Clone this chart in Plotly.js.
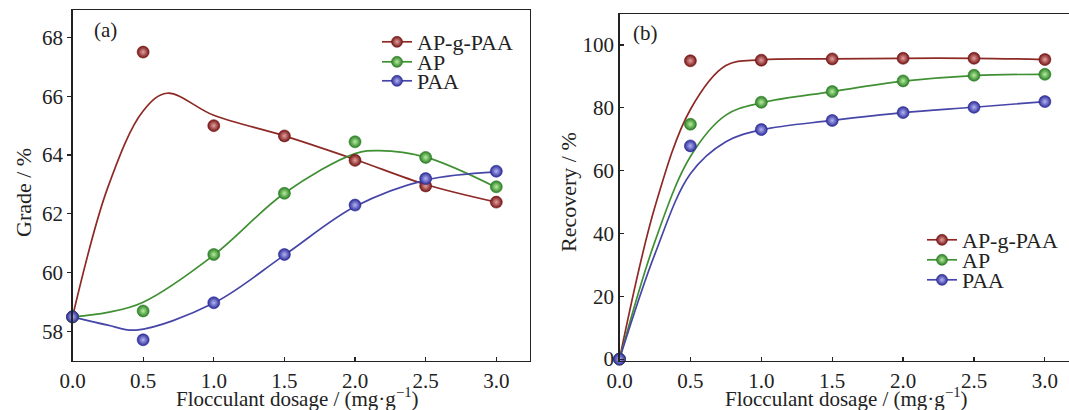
<!DOCTYPE html>
<html>
<head>
<meta charset="utf-8">
<script src="https://cdn.plot.ly/plotly-3.0.1.min.js"></script>
<style>html,body{margin:0;padding:0;background:#fff;}#chart{width:1069px;height:410px;}</style>
</head>
<body>
<div id="chart"></div>
<script>
// ---------- data ----------
const dosage = [0.0, 0.5, 1.0, 1.5, 2.0, 2.5, 3.0];
const seriesNames = ['AP-g-PAA', 'AP', 'PAA'];

// (a) Grade / %
const gradeAPgPAA = [58.5, 67.5, 65.0, 64.65, 63.82, 62.95, 62.4];
const gradeAP     = [58.5, 58.7, 60.62, 62.7, 64.45, 63.92, 62.92];
const gradePAA    = [58.5, 57.72, 58.98, 60.62, 62.3, 63.2, 63.45];

// fitted curves for (a)
const gradeFitX_APgPAA = [0, 0.25, 0.5, 0.67, 1.0, 1.5, 2.0, 2.5, 3.0];
const gradeFitY_APgPAA = [58.5, 62.9, 65.5, 66.1, 65.35, 64.65, 63.85, 63.0, 62.4];
const gradeFitX_AP = [0, 0.25, 0.5, 1.0, 1.5, 2.0, 2.17, 2.5, 3.0];
const gradeFitY_AP = [58.5, 58.65, 59.0, 60.6, 62.7, 64.05, 64.15, 63.93, 62.9];
const gradeFitX_PAA = [0, 0.25, 0.45, 1.0, 1.5, 2.0, 2.5, 3.0];
const gradeFitY_PAA = [58.5, 58.22, 58.05, 58.97, 60.6, 62.25, 63.15, 63.43];

// (b) Recovery / %
const recAPgPAA = [0, 95.0, 95.2, 95.6, 95.8, 95.8, 95.4];
const recAP     = [0, 74.8, 81.8, 85.2, 88.6, 90.4, 90.7];
const recPAA    = [0, 67.9, 73.1, 76.0, 78.5, 80.2, 82.0];

// fitted curves for (b)
const recFitX = [0, 0.25, 0.5, 0.75, 1.0, 1.5, 2.0, 2.5, 3.0];
const recFitY_APgPAA = [0, 48.5, 79.5, 93.5, 95.3, 95.6, 95.8, 95.8, 95.4];
const recFitY_AP     = [0, 37.5, 64.5, 77.7, 81.6, 85.2, 88.5, 90.3, 90.7];
const recFitY_PAA    = [0, 33.5, 59.0, 69.2, 73.0, 76.0, 78.5, 80.2, 82.0];

const xTickVals = [0, 0.5, 1.0, 1.5, 2.0, 2.5, 3.0];
const xTickText = ['0.0', '0.5', '1.0', '1.5', '2.0', '2.5', '3.0'];
const gradeTicks = [58, 60, 62, 64, 66, 68];
const recTicks = [0, 20, 40, 60, 80, 100];

// ---------- styles ----------
const lineColors = ['#8e2a26', '#3f8f33', '#4646a8'];
const markColors = ['#741414', '#2a7d24', '#2c2c98'];
const hiColors   = ['#e6a0a0', '#b6ee9e', '#b4b4f4'];
const FONT = 'Liberation Serif, Times New Roman, serif';
const INK = '#222';

function pts(x, y, i, xa, ya) {
  return {x: x, y: y, xaxis: xa, yaxis: ya, type: 'scatter', mode: 'markers', showlegend: false,
    marker: {size: 12, color: markColors[i], gradient: {type: 'radial', color: hiColors[i]},
             line: {width: 0.6, color: markColors[i]}}, cliponaxis: false};
}
function fit(x, y, i, xa, ya) {
  return {x: x, y: y, xaxis: xa, yaxis: ya, type: 'scatter', mode: 'lines', showlegend: false,
    line: {color: lineColors[i], width: 1.7, shape: 'spline', smoothing: 1.0}, cliponaxis: false};
}
function leg(i, lg, xa, ya) {
  return {x: [null], y: [null], type: 'scatter', mode: 'lines+markers', name: seriesNames[i],
    legend: lg, xaxis: xa, yaxis: ya,
    line: {color: lineColors[i], width: 1.7},
    marker: {size: 11, color: markColors[i], gradient: {type: 'radial', color: hiColors[i]},
             line: {width: 0.6, color: markColors[i]}}};
}

const traces = [
  fit(gradeFitX_APgPAA, gradeFitY_APgPAA, 0, 'x', 'y'),
  fit(gradeFitX_AP, gradeFitY_AP, 1, 'x', 'y'),
  fit(gradeFitX_PAA, gradeFitY_PAA, 2, 'x', 'y'),
  pts(dosage, gradeAPgPAA, 0, 'x', 'y'),
  pts(dosage, gradeAP, 1, 'x', 'y'),
  pts(dosage, gradePAA, 2, 'x', 'y'),
  fit(recFitX, recFitY_APgPAA, 0, 'x2', 'y2'),
  fit(recFitX, recFitY_AP, 1, 'x2', 'y2'),
  fit(recFitX, recFitY_PAA, 2, 'x2', 'y2'),
  pts(dosage, recAPgPAA, 0, 'x2', 'y2'),
  pts(dosage, recAP, 1, 'x2', 'y2'),
  pts(dosage, recPAA, 2, 'x2', 'y2'),
  leg(0, 'legend', 'x', 'y'), leg(1, 'legend2', 'x', 'y'), leg(2, 'legend3', 'x', 'y'),
  leg(0, 'legend4', 'x2', 'y2'), leg(1, 'legend5', 'x2', 'y2'), leg(2, 'legend6', 'x2', 'y2')
];

const W = 1069, H = 410;
const axCommon = {showgrid: false, zeroline: false, showline: true, linecolor: INK, linewidth: 1.3,
  ticks: 'outside', ticklen: 4, tickwidth: 1.2, tickcolor: INK,
  tickfont: {family: FONT, size: 21, color: INK}};

function legendAt(px, py) {
  return {x: px / W, y: (H - py) / H, xanchor: 'left', yanchor: 'middle', bgcolor: 'rgba(0,0,0,0)',
    font: {family: FONT, size: 22, color: INK}, borderwidth: 0};
}
function ann(text, px, py, size, angle) {
  return {text: text, xref: 'paper', yref: 'paper', x: px / W, y: (H - py) / H,
    xanchor: 'center', yanchor: 'middle', textangle: angle || 0,
    showarrow: false, font: {family: FONT, size: size, color: INK}};
}

const layout = {
  width: W, height: H,
  margin: {l: 0, r: 0, t: 0, b: 0},
  paper_bgcolor: '#ffffff', plot_bgcolor: '#ffffff',
  font: {family: FONT, color: INK},
  xaxis: Object.assign({}, axCommon, {domain: [72.5 / W, 529.5 / W], range: [0, 3.235],
    tickvals: xTickVals, ticktext: xTickText, ticks: 'inside', mirror: true, anchor: 'y'}),
  yaxis: Object.assign({}, axCommon, {domain: [(H - 361) / H, (H - 10) / H], range: [57.0, 68.93],
    tickvals: gradeTicks, mirror: true, anchor: 'x'}),
  xaxis2: Object.assign({}, axCommon, {domain: [619.5 / W, 1], range: [0, 3.17],
    tickvals: xTickVals, ticktext: xTickText, ticks: 'inside', mirror: true, anchor: 'y2'}),
  yaxis2: Object.assign({}, axCommon, {domain: [(H - 361) / H, (H - 14) / H], range: [-0.6, 109.9],
    tickvals: recTicks, ticks: 'inside', mirror: false, anchor: 'x2'}),
  legend:  legendAt(377, 42),
  legend2: legendAt(377, 62),
  legend3: legendAt(377, 81),
  legend4: legendAt(922, 240),
  legend5: legendAt(922, 260),
  legend6: legendAt(922, 280),
  annotations: [
    ann('Grade / %', 23, 193, 22, -90),
    ann('Flocculant dosage / (mg·g<sup>−1</sup>)', 297, 397, 21),
    ann('Recovery / %', 568, 192, 22, -90),
    ann('Flocculant dosage / (mg·g<sup>−1</sup>)', 846, 397, 21),
    ann('(a)', 105, 30, 21),
    ann('(b)', 645, 33, 21)
  ]
};

Plotly.newPlot('chart', traces, layout, {displayModeBar: false, staticPlot: true});
</script>
</body>
</html>
